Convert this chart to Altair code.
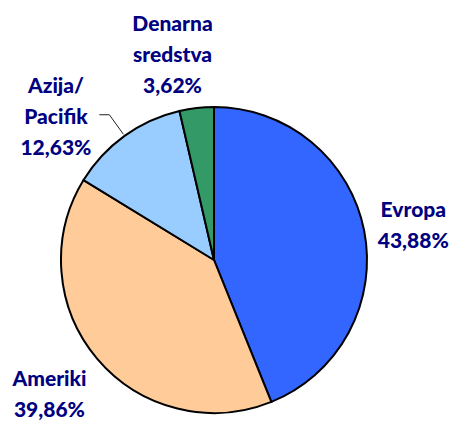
import math
import altair as alt
import pandas as pd

categories = ["Evropa", "Ameriki", "Azija/Pacifik", "Denarna sredstva"]
values = [43.88, 39.86, 12.63, 3.62]
label_names = ["Evropa", "Ameriki", "Azija/\nPacifik", "Denarna\nsredstva"]
value_text = ["43,88%", "39,86%", "12,63%", "3,62%"]
colors = ["#3366FF", "#FFCC99", "#99CCFF", "#339966"]

df = pd.DataFrame({
    "cat": categories,
    "value": values,
    "idx": list(range(len(categories))),
    "label": [n + "\n" + v for n, v in zip(label_names, value_text)],
})

CX, CY, R = 206, 252, 153
FONT = "Lato"
NAVY = "#000080"

base = alt.Chart(df)

pie = base.mark_arc(outerRadius=R, stroke="black", strokeWidth=2).encode(
    theta=alt.Theta("value:Q", stack=True),
    order=alt.Order("idx:Q"),
    color=alt.Color("cat:N", scale=alt.Scale(domain=categories, range=colors), legend=None),
    x=alt.value(CX),
    y=alt.value(CY),
)

total = sum(values)

def label_layer(cat, radius, dx=0, dy=0):
    return (
        base.transform_window(cum="sum(value)", sort=[alt.SortField("idx")])
        .transform_calculate(mid=f"(datum.cum - datum.value/2)/{total}")
        .transform_filter(alt.datum.cat == cat)
        .mark_text(
            radius=radius, dx=dx, dy=dy, font=FONT, fontSize=21, fontWeight=900,
            color=NAVY, lineBreak="\n", lineHeight=31, align="center", baseline="middle",
        )
        .encode(
            theta=alt.Theta("mid:Q", scale=alt.Scale(domain=[0, 1], range=[0, 2 * math.pi]), stack=None),
            text="label:N",
            x=alt.value(CX),
            y=alt.value(CY),
        )
    )

labels = alt.layer(
    label_layer("Evropa", 203, dy=-10),
    label_layer("Ameriki", 213, dx=-2, dy=-18),
    label_layer("Azija/Pacifik", 190, dx=-47, dy=-19),
    label_layer("Denarna sredstva", 207, dx=-18, dy=-29),
)

# leader line for Azija/Pacifik, computed from its slice mid-angle
cum_before = sum(values[:2])
mid = (cum_before + values[2] / 2) / total * 2 * math.pi
p1 = (CX + 155 * math.sin(mid), CY - 155 * math.cos(mid))
p2 = (CX + 179 * math.sin(mid), CY - 179 * math.cos(mid))
p3 = (p2[0] - 10, p2[1])
leader_df = pd.DataFrame({"px": [p1[0], p2[0], p3[0]], "py": [p1[1], p2[1], p3[1]], "o": [0, 1, 2]})
leader = alt.Chart(leader_df).mark_line(color="#222222", strokeWidth=1).encode(
    x=alt.X("px:Q", scale=None, axis=None),
    y=alt.Y("py:Q", scale=None, axis=None),
    order="o:Q",
)

chart = alt.layer(pie, leader, labels).resolve_scale(theta="independent").properties(
    width=441, height=412, autosize=alt.AutoSizeParams(type="none"), padding=0,
).configure_view(stroke=None)

chart.save("out.html", embed_options={"renderer": "svg", "actions": False})
